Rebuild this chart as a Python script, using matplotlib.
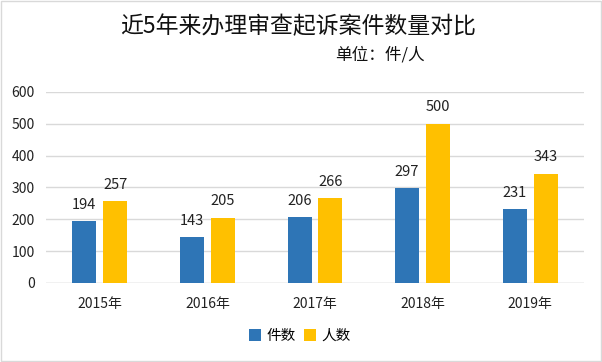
import matplotlib.pyplot as plt
import numpy as np
from matplotlib.patches import Rectangle

plt.rcParams['font.family'] = ['Noto Sans CJK SC', 'DejaVu Sans']

years = ['2015年', '2016年', '2017年', '2018年', '2019年']
cases = [194, 143, 206, 297, 231]
people = [257, 205, 266, 500, 343]

fig = plt.figure(figsize=(6.02, 3.62), dpi=100)
ax = fig.add_axes([46 / 602, 1 - 283 / 362, 538 / 602, 191 / 362])

x = np.arange(len(years))
w = 0.223
off = 0.144
b1 = ax.bar(x - off, cases, w, color='#2E75B6', label='件数', zorder=3)
b2 = ax.bar(x + off, people, w, color='#FFC000', label='人数', zorder=3)
for bars in (b1, b2):
    for b in bars:
        ax.text(b.get_x() + b.get_width() / 2, b.get_height() + 30, str(int(b.get_height())),
                ha='center', va='bottom', fontsize=10.5, color='#222222')

ax.set_xlim(-0.5, 4.5)
ax.set_ylim(0, 600)
ax.set_yticks(range(0, 601, 100))
ax.set_xticks(x)
ax.set_xticklabels(years)
ax.tick_params(length=0, labelsize=10, colors='#222222')
ax.tick_params(axis='y', pad=8)
ax.tick_params(axis='x', pad=10)
ax.grid(axis='y', color='#d9d9d9', linewidth=1, zorder=0)
for s in ax.spines.values():
    s.set_visible(False)
ax.axhline(0, color='#d9d9d9', linewidth=1, zorder=1)

fig.text(298 / 602, 1 - 27 / 362, '近5年来办理审查起诉案件数量对比', ha='center', va='center',
         fontsize=16.5, fontweight='medium', color='#111111')
fig.text(380 / 602, 1 - 55 / 362, '单位：件/人', ha='center', va='center', fontsize=12, color='#111111')

fig.legend(handles=[b1, b2], loc='center', bbox_to_anchor=(300 / 602, 1 - 336 / 362), ncol=2,
           frameon=False, fontsize=10.5, handlelength=0.8, handleheight=0.8, handletextpad=0.4,
           columnspacing=0.6)

fig.patches.append(Rectangle((0.002, 0.003), 0.996, 0.994, transform=fig.transFigure,
                             fill=False, edgecolor='#d9d9d9', linewidth=1))

fig.savefig('out.png', dpi=100)
